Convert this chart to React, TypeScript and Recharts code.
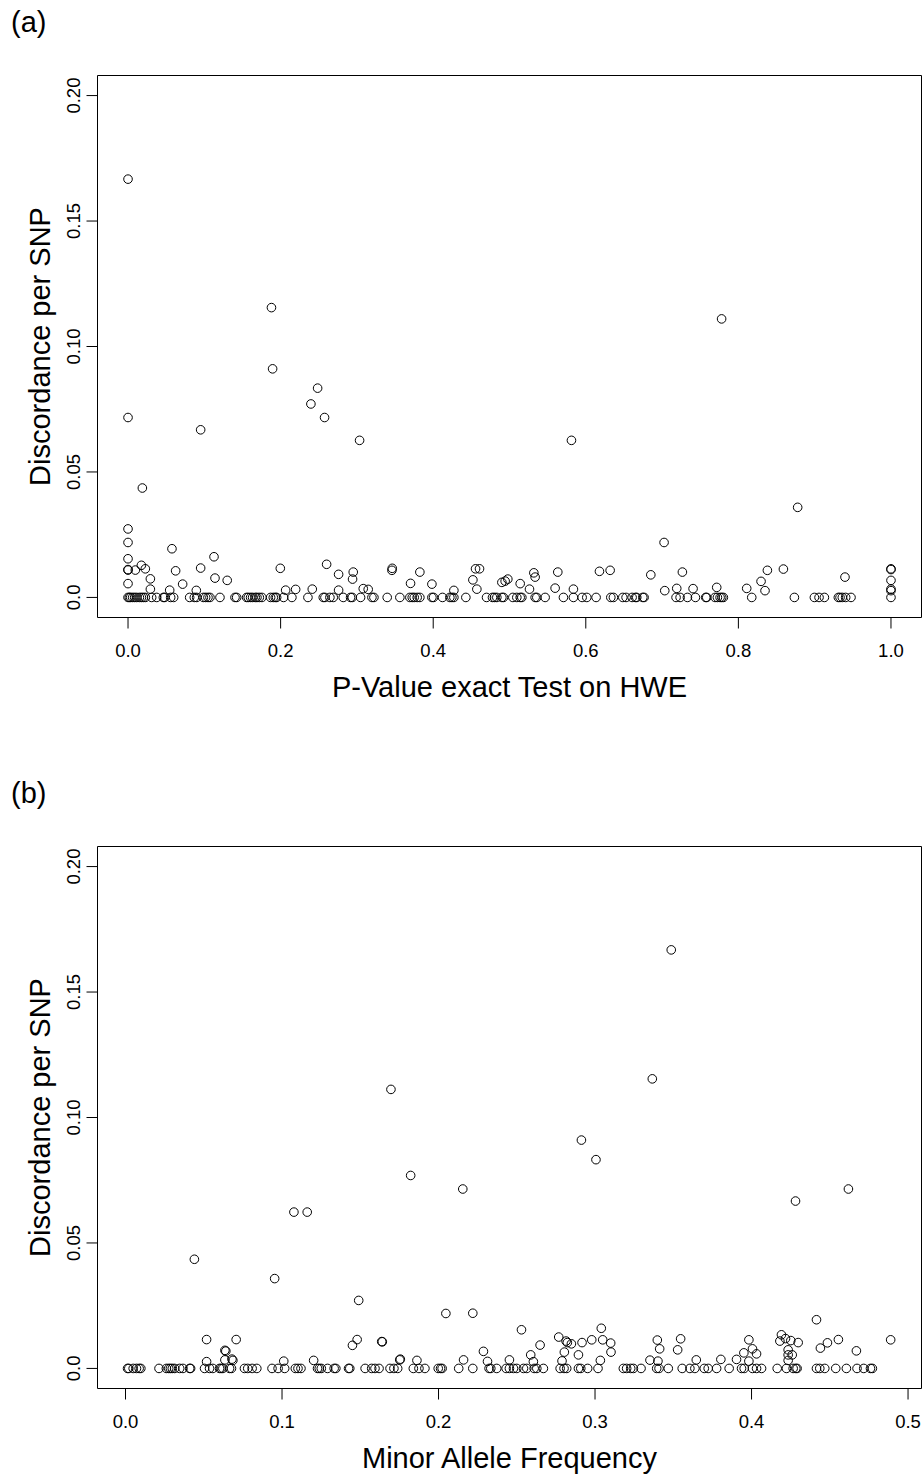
import React from 'react';
import { ScatterChart, Scatter, XAxis, YAxis, ReferenceArea } from 'recharts';

// panel (a): discordance vs HWE exact-test p-value
const hweZeroP = [
  0, 0.0017, 0.0035, 0.0061, 0.0087, 0.0114, 0.0149, 0.0175, 0.0201, 0.0227, 0.031, 0.0376,
  0.0463, 0.048, 0.0559, 0.0598, 0.0808, 0.0869, 0.09, 0.0987, 0.1017, 0.1048, 0.1074, 0.1205,
  0.1402, 0.1424, 0.1555, 0.1576, 0.1607, 0.1633, 0.1668, 0.169, 0.1721, 0.1755, 0.1869, 0.1904,
  0.193, 0.1948, 0.2039, 0.2148, 0.2358, 0.2559, 0.2581, 0.2646, 0.269, 0.2821, 0.2917, 0.2939,
  0.3048, 0.3197, 0.3223, 0.3397, 0.3563, 0.3694, 0.3725, 0.3751, 0.379, 0.3825, 0.3983, 0.4004,
  0.4122, 0.4218, 0.4245, 0.4271, 0.4428, 0.4699, 0.4777, 0.4803, 0.4834, 0.49, 0.4921, 0.5044,
  0.5096, 0.514, 0.5162, 0.5336, 0.5358, 0.5467, 0.5707, 0.5838, 0.5952, 0.6013, 0.6135, 0.6328,
  0.6362, 0.6485, 0.6528, 0.6607, 0.6651, 0.6668, 0.6747, 0.6764, 0.7183, 0.7236, 0.7332, 0.7437,
  0.7572, 0.7585, 0.7694, 0.7725, 0.776, 0.7782, 0.7803, 0.8175, 0.8734, 0.8996, 0.9057, 0.9127,
  0.931, 0.9332, 0.9362, 0.9406, 0.9476, 1.0,
];
const hweP = [
  0, 0.188, 0.1895, 0.2485, 0.2397, 0, 0.0952, 0.2576, 0.3035, 0.0188, 0.778, 0.5812, 0.8777,
  0.7026, 0, 0, 0, 0, 0, 0.0096, 0.0175, 0.0227, 0, 0.0293, 0.0293, 0.0576, 0.0624, 0.0716,
  0.0546, 0.0895, 0.0952, 0.1127, 0.114, 0.13, 0.1996, 0.2066, 0.2197, 0.2415, 0.2603, 0.276,
  0.276, 0.2952, 0.2943, 0.3083, 0.3148, 0.3463, 0.3459, 0.3703, 0.3825, 0.3983, 0.4271, 0.452,
  0.4555, 0.4607, 0.4572, 0.49, 0.4943, 0.4978, 0.514, 0.5262, 0.5319, 0.5336, 0.5598, 0.5633,
  0.5838, 0.6179, 0.6319, 0.6852, 0.7035, 0.7192, 0.7266, 0.7406, 0.7716, 0.8109, 0.8297, 0.8349,
  0.838, 0.859, 0.9397, 1, 1, 1, 1, 1,
];
const hweDisc = [
  0.1667, 0.1155, 0.0911, 0.0834, 0.0771, 0.0717, 0.0668, 0.0717, 0.0626, 0.0436, 0.111, 0.0626,
  0.0359, 0.0219, 0.0273, 0.0219, 0.0154, 0.0109, 0.0111, 0.0109, 0.0128, 0.0114, 0.0055, 0.0074,
  0.0033, 0.0194, 0.0106, 0.0053, 0.0029, 0.0028, 0.0117, 0.0162, 0.0077, 0.0068, 0.0116, 0.0029,
  0.0032, 0.0033, 0.0132, 0.0092, 0.0029, 0.0101, 0.0073, 0.0035, 0.0032, 0.0116, 0.0108, 0.0056,
  0.0101, 0.0053, 0.0028, 0.007, 0.0114, 0.0114, 0.0033, 0.006, 0.0065, 0.0073, 0.0055, 0.0033,
  0.0098, 0.0081, 0.0037, 0.0101, 0.0033, 0.0104, 0.0108, 0.009, 0.0027, 0.0036, 0.0101, 0.0035,
  0.004, 0.0036, 0.0064, 0.0027, 0.0108, 0.0113, 0.0081, 0.0114, 0.0111, 0.0068, 0.0033, 0.0027,
];

// panel (b): discordance vs minor allele frequency
const mafZero = [
  0.0013, 0.0021, 0.0049, 0.007, 0.0087, 0.0098, 0.0214, 0.0261, 0.0276, 0.0287, 0.0299, 0.0314,
  0.0346, 0.0367, 0.041, 0.0416, 0.0505, 0.0537, 0.0558, 0.0601, 0.0611, 0.0622, 0.0665, 0.0677,
  0.076, 0.0781, 0.0809, 0.0839, 0.0936, 0.0975, 0.1017, 0.1085, 0.1102, 0.1121, 0.1227, 0.1238,
  0.1251, 0.1291, 0.1333, 0.1344, 0.1425, 0.1433, 0.1531, 0.1573, 0.1594, 0.162, 0.169, 0.1715,
  0.1739, 0.1839, 0.1875, 0.1913, 0.1998, 0.2013, 0.2023, 0.2129, 0.2219, 0.2323, 0.2334, 0.2372,
  0.2432, 0.2453, 0.2479, 0.25, 0.2543, 0.2564, 0.2611, 0.2628, 0.267, 0.2777, 0.2802, 0.2819,
  0.2894, 0.2909, 0.2953, 0.3019, 0.3181, 0.3202, 0.3228, 0.3245, 0.3294, 0.3394, 0.3409, 0.3468,
  0.3557, 0.3606, 0.3638, 0.3698, 0.3723, 0.3777, 0.3857, 0.3936, 0.3953, 0.4006, 0.4032, 0.4064,
  0.4164, 0.4223, 0.4266, 0.4283, 0.4291, 0.4415, 0.4436, 0.4468, 0.4538, 0.4606, 0.4674, 0.4717,
  0.476, 0.4772,
];
const mafX = [
  0.1696, 0.1822, 0.3487, 0.3366, 0.2913, 0.3006, 0.1076, 0.1161, 0.044, 0.0953, 0.149, 0.2047,
  0.2155, 0.4281, 0.4619, 0.2219, 0.4415, 0.253, 0.304, 0.4889, 0.0518, 0.0707, 0.0518, 0.0635,
  0.0641, 0.0635, 0.068, 0.0686, 0.1011, 0.1202, 0.145, 0.148, 0.1637, 0.1641, 0.1752, 0.1756,
  0.1862, 0.216, 0.2287, 0.2313, 0.2453, 0.2589, 0.2606, 0.2649, 0.2768, 0.2815, 0.2823, 0.2849,
  0.2804, 0.2789, 0.2894, 0.2917, 0.2979, 0.3034, 0.3049, 0.31, 0.3102, 0.3351, 0.3398, 0.3413,
  0.3402, 0.3528, 0.3547, 0.3647, 0.3804, 0.3904, 0.3951, 0.3983, 0.4006, 0.4032, 0.3983, 0.4191,
  0.4181, 0.4217, 0.4251, 0.4298, 0.4234, 0.4234, 0.426, 0.4234, 0.444, 0.4485, 0.4555, 0.467,
];
const mafDisc = [
  0.1112, 0.0769, 0.1668, 0.1154, 0.091, 0.0832, 0.0623, 0.0623, 0.0435, 0.0358, 0.0271, 0.0219,
  0.0715, 0.0667, 0.0715, 0.022, 0.0194, 0.0154, 0.016, 0.0114, 0.0115, 0.0115, 0.0027, 0.0072,
  0.0069, 0.0034, 0.0037, 0.0032, 0.0029, 0.0032, 0.0092, 0.0115, 0.0107, 0.0106, 0.0034, 0.0037,
  0.0032, 0.0034, 0.0068, 0.0028, 0.0034, 0.0054, 0.0027, 0.0093, 0.0125, 0.0109, 0.0103, 0.0098,
  0.0065, 0.003, 0.0054, 0.0103, 0.0114, 0.0032, 0.0114, 0.0101, 0.0065, 0.0033, 0.0113, 0.0078,
  0.0029, 0.0074, 0.0118, 0.0034, 0.0036, 0.0036, 0.0062, 0.0114, 0.0078, 0.0058, 0.0029, 0.0134,
  0.0109, 0.0119, 0.0111, 0.0103, 0.0074, 0.0054, 0.0054, 0.0032, 0.0081, 0.0102, 0.0115, 0.007,
];

const yTicks = [0, 0.05, 0.1, 0.15, 0.2];
const yTickLabels = ['0.0', '0.05', '0.10', '0.15', '0.20'];
const hweTicks = [0, 0.2, 0.4, 0.6, 0.8, 1.0];
const hweTickLabels = ['0.0', '0.2', '0.4', '0.6', '0.8', '1.0'];
const mafTicks = [0, 0.1, 0.2, 0.3, 0.4, 0.5];
const mafTickLabels = ['0.0', '0.1', '0.2', '0.3', '0.4', '0.5'];

const FONT = '"Liberation Sans", Arial, Helvetica, sans-serif';
const W = 923;
const H = 740;
const TOP = 75.5;
const BOTTOM = 617.5;
const LEFT = 97.5;
const RIGHT = 921.5;

const toRows = (zeros: number[], xs: number[], ys: number[]) => [
  ...zeros.map((x) => ({ x, y: 0 })),
  ...xs.map((x, i) => ({ x, y: ys[i] })),
];

const OpenCircle = (props: any) => (
  <circle cx={props.cx} cy={props.cy} r={4.3} fill="none" stroke="#000" strokeWidth={1} />
);

function Panel({ rows, xDomain, xTicks, xLabels, xTitle, yDomain }: any) {
  const XTick = ({ x, payload }: any) => (
    <text x={x} y={BOTTOM + 39.5} textAnchor="middle" fontSize={18.5} fontFamily={FONT} fill="#000">
      {xLabels[xTicks.indexOf(payload.value)]}
    </text>
  );
  const YTick = ({ y, payload }: any) => (
    <text
      transform={`translate(79.5, ${y}) rotate(-90)`}
      textAnchor="middle"
      fontSize={18.5}
      fontFamily={FONT}
      fill="#000"
    >
      {yTickLabels[yTicks.indexOf(payload.value)]}
    </text>
  );

  return (
    <ScatterChart width={W} height={H} margin={{ top: TOP, right: W - RIGHT, bottom: 0, left: 0 }}>
      <XAxis
        type="number"
        dataKey="x"
        domain={xDomain}
        ticks={xTicks}
        allowDataOverflow
        axisLine={false}
        tickLine={{ stroke: '#000' }}
        tickSize={11}
        tick={<XTick />}
        height={H - BOTTOM}
        interval={0}
        label={{
          content: () => (
            <text x={(LEFT + RIGHT) / 2} y={BOTTOM + 79.5} textAnchor="middle" fontSize={29} fontFamily={FONT} fill="#000">
              {xTitle}
            </text>
          ),
        }}
      />
      <YAxis
        type="number"
        dataKey="y"
        domain={yDomain}
        ticks={yTicks}
        allowDataOverflow
        axisLine={false}
        tickLine={{ stroke: '#000' }}
        tickSize={11}
        tick={<YTick />}
        width={LEFT}
        interval={0}
        label={{
          content: () => (
            <text
              transform={`translate(50, ${(TOP + BOTTOM) / 2}) rotate(-90)`}
              textAnchor="middle"
              fontSize={29}
              fontFamily={FONT}
              fill="#000"
            >
              Discordance per SNP
            </text>
          ),
        }}
      />
      <ReferenceArea
        x1={xDomain[0]}
        x2={xDomain[1]}
        y1={yDomain[0]}
        y2={yDomain[1]}
        fill="none"
        stroke="#000"
        strokeWidth={1}
        ifOverflow="visible"
      />
      <Scatter data={rows} shape={<OpenCircle />} isAnimationActive={false} />
    </ScatterChart>
  );
}

export default function App() {
  const yDomain = [-0.008, 0.208];
  return (
    <div style={{ position: 'absolute', left: 0, top: 0, width: W, height: 1477, background: '#fff' }}>
      <div style={{ position: 'absolute', left: 0, top: 0 }}>
        <Panel
          rows={toRows(hweZeroP, hweP, hweDisc)}
          xDomain={[-0.04, 1.04]}
          xTicks={hweTicks}
          xLabels={hweTickLabels}
          xTitle="P-Value exact Test on HWE"
          yDomain={yDomain}
        />
      </div>
      <div style={{ position: 'absolute', left: 0, top: 771 }}>
        <Panel
          rows={toRows(mafZero, mafX, mafDisc)}
          xDomain={[-0.0179, 0.5086]}
          xTicks={mafTicks}
          xLabels={mafTickLabels}
          xTitle="Minor Allele Frequency"
          yDomain={yDomain}
        />
      </div>
      <svg width={W} height={1477} style={{ position: 'absolute', left: 0, top: 0, pointerEvents: 'none' }}>
        <text x={11} y={32} fontSize={29} fontFamily={FONT} fill="#000">(a)</text>
        <text x={11} y={802.5} fontSize={29} fontFamily={FONT} fill="#000">(b)</text>
      </svg>
    </div>
  );
}
